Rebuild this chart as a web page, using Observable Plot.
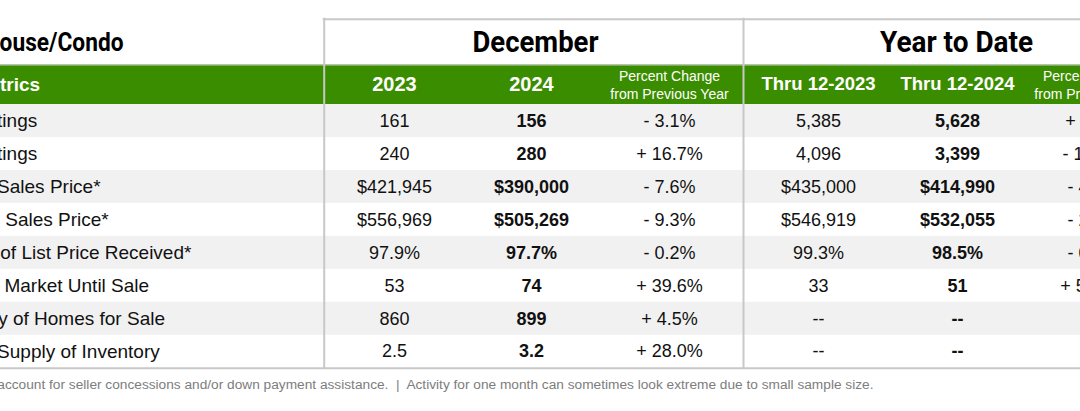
<!DOCTYPE html>
<html><head><meta charset="utf-8">
<script src="https://cdn.jsdelivr.net/npm/d3@7"></script>
<script src="https://cdn.jsdelivr.net/npm/@observablehq/plot@0.6"></script>
<style>html,body{margin:0;padding:0;background:#fff;overflow:hidden}</style>
</head><body><div id="chart"></div>
<script>
// ---------- data ----------
const title = "Townhouse/Condo";
const groups = ["December", "Year to Date"];
const metricsHeader = "Key Metrics";
const colHeaders = ["2023", "2024", "Percent Change\nfrom Previous Year", "Thru 12-2023", "Thru 12-2024", "Percent Change\nfrom Previous Year"];
const metrics = ["New Listings", "Sold Listings", "Median Sales Price*", "Average Sales Price*", "Percent of List Price Received*", "Days on Market Until Sale", "Inventory of Homes for Sale", "Months Supply of Inventory"];
const kinds = ["count", "count", "usd", "usd", "pct", "count", "count", "dec"];
const dec2023 = [161, 240, 421945, 556969, 97.9, 53, 860, 2.5];
const dec2024 = [156, 280, 390000, 505269, 97.7, 74, 899, 3.2];
const decChange = [-3.1, 16.7, -7.6, -9.3, -0.2, 39.6, 4.5, 28.0];
const ytd2023 = [5385, 4096, 435000, 546919, 99.3, 33, null, null];
const ytd2024 = [5628, 3399, 414990, 532055, 98.5, 51, null, null];
const ytdChange = [4.5, -17.0, -4.6, -2.7, -0.8, 54.5, null, null];
const footnote = "* Does not account for seller concessions and/or down payment assistance.  |  Activity for one month can sometimes look extreme due to small sample size.";

// ---------- layout ----------
const W = 1080, H = 411;
const L = {
  labelX: -71, colX: [394, 531, 669, 818, 957, 1093], divX: [323.7, 743],
  top: 18.7, greenTop: 64.5, greenBot: 104, bottom: 367.7,
  titleY: 42, titleEnd: 123, groupX: [535, 956], headY: 84, footY: 384, footEnd: 873
};
const rowH = (L.bottom - L.greenBot) / metrics.length;
const rowTop = i => L.greenBot + i * rowH;
const rowMid = i => rowTop(i) + rowH / 2;
const green = "#3b8d00", lineC = "#c8c8c8", ink = "#111";

const fmtN = d3.format(",");
function fmtVal(v, k) {
  if (v == null) return "--";
  if (k === "usd") return "$" + fmtN(v);
  if (k === "pct") return v.toFixed(1) + "%";
  if (k === "dec") return v.toFixed(1);
  return fmtN(v);
}
function fmtChg(v) {
  if (v == null) return "--";
  return (v < 0 ? "- " : "+ ") + Math.abs(v).toFixed(1) + "%";
}

const series = [dec2023, dec2024, decChange, ytd2023, ytd2024, ytdChange];
const cells = [];
metrics.forEach((m, i) => {
  series.forEach((s, c) => {
    const isChg = c === 2 || c === 5;
    cells.push({i, c, bold: c === 1 || c === 4, text: isChg ? fmtChg(s[i]) : fmtVal(s[i], kinds[i])});
  });
});
const rowsIdx = metrics.map((m, i) => i);
const heads = colHeaders.map((t, c) => ({t, c}));
const yearHeads = heads.filter(d => d.t.length === 4);
const thruHeads = heads.filter(d => d.t.startsWith("Thru"));
const pctHeads = heads.filter(d => d.t.includes("\n"));

const sans = "Liberation Sans, Arial, Helvetica, sans-serif";
const cond = "Roboto, Liberation Sans, sans-serif";

const chart = Plot.plot({
  width: W, height: H, margin: 0,
  x: {type: "linear", domain: [0, W], range: [0, W], axis: null},
  y: {type: "linear", domain: [0, H], range: [0, H], axis: null},
  style: {background: "#fff"},
  marks: [
    // row stripes
    Plot.rect(rowsIdx.filter(i => i % 2 === 0), {x1: () => 0, x2: () => W, y1: i => rowTop(i), y2: i => rowTop(i) + rowH, fill: "#f1f1f1"}),
    // green header band
    Plot.rect([0], {x1: () => 0, x2: () => W, y1: () => L.greenTop, y2: () => L.greenBot, fill: green}),
    // borders
    Plot.ruleY([L.greenTop], {y: d => d, x1: () => 0, x2: () => W, stroke: lineC, strokeWidth: 1}),
    Plot.ruleY([L.top], {y: d => d, x1: () => L.divX[0] - 1, x2: () => W, stroke: lineC, strokeWidth: 2}),
    Plot.ruleY([L.bottom], {y: d => d, x1: () => 0, x2: () => W, stroke: lineC, strokeWidth: 2}),
    Plot.ruleX(L.divX, {x: d => d, y1: () => L.top - 1, y2: () => L.bottom + 1, stroke: lineC, strokeWidth: 2}),
    // title and group titles
    Plot.text([title], {x: () => L.titleEnd, y: () => L.titleY, text: d => d, textAnchor: "end", fontFamily: cond, fontWeight: "bold", fontSize: 25, fill: "#000"}),
    Plot.text(groups, {x: (d, i) => L.groupX[i], y: () => L.titleY, text: d => d, textAnchor: "middle", fontFamily: cond, fontWeight: "bold", fontSize: 30, fill: "#000"}),
    // header row
    Plot.text([metricsHeader], {x: () => L.labelX + 4, y: () => L.headY, text: d => d, textAnchor: "start", fontFamily: sans, fontWeight: "bold", fontSize: 19, fill: "#fff"}),
    Plot.text(yearHeads, {x: d => L.colX[d.c], y: () => L.headY, text: "t", textAnchor: "middle", fontFamily: sans, fontWeight: "bold", fontSize: 20, fill: "#fff"}),
    Plot.text(thruHeads, {x: d => L.colX[d.c], y: () => L.headY, text: "t", textAnchor: "middle", fontFamily: sans, fontWeight: "bold", fontSize: 18.5, fill: "#fff"}),
    Plot.text(pctHeads, {x: d => L.colX[d.c], y: () => L.headY, text: "t", textAnchor: "middle", fontFamily: sans, fontSize: 14, lineHeight: 1.3, fill: "#fff"}),
    // row labels
    Plot.text(metrics, {x: () => L.labelX, y: (d, i) => rowMid(i), text: d => d, textAnchor: "start", fontFamily: sans, fontSize: 19, fill: ink}),
    // values
    Plot.text(cells.filter(d => !d.bold), {x: d => L.colX[d.c], y: d => rowMid(d.i), text: "text", textAnchor: "middle", fontFamily: sans, fontSize: 18, fill: ink}),
    Plot.text(cells.filter(d => d.bold), {x: d => L.colX[d.c], y: d => rowMid(d.i), text: "text", textAnchor: "middle", fontFamily: sans, fontWeight: "bold", fontSize: 18, fill: ink}),
    // footnote
    Plot.text([footnote], {x: () => L.footEnd, y: () => L.footY, text: d => d, textAnchor: "end", fontFamily: sans, fontSize: 13.7, fill: "#7d7d7d"})
  ]
});

// condensed widths for the display headings
const svg = d3.select(chart);
svg.selectAll("text").each(function() {
  const t = this.textContent;
  const s = d3.select(this);
  if (t === title) s.attr("textLength", 191).attr("lengthAdjust", "spacingAndGlyphs");
  if (t === "December") s.attr("textLength", 126).attr("lengthAdjust", "spacingAndGlyphs");
  if (t === "Year to Date") s.attr("textLength", 153).attr("lengthAdjust", "spacingAndGlyphs");
});
document.getElementById("chart").appendChild(chart);
</script>
</body></html>
